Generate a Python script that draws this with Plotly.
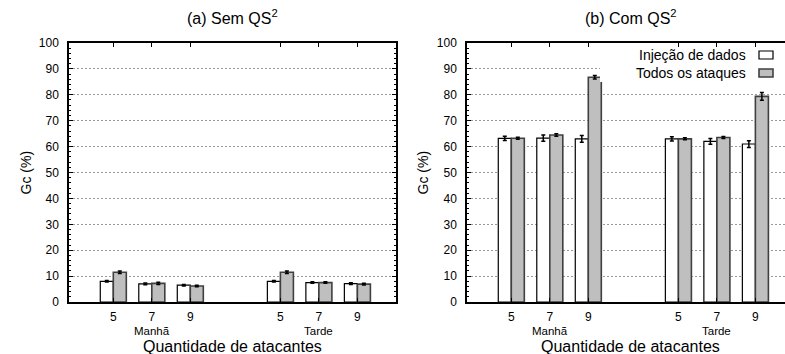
import plotly.graph_objects as go

# ---------------- data ----------------
periods = ["Manhã", "Tarde"]
attackers = ["5", "7", "9"]
series_names = ["Injeção de dados", "Todos os ataques"]

# (a) Sem QS^2
inj_sem = [8.0, 7.0, 6.5, 8.0, 7.5, 7.1]
inj_sem_err = [0.3, 0.3, 0.3, 0.3, 0.3, 0.3]
todos_sem = [11.5, 7.2, 6.2, 11.5, 7.5, 6.9]
todos_sem_err = [0.5, 0.4, 0.3, 0.5, 0.3, 0.3]

# (b) Com QS^2
inj_com = [63.2, 63.3, 63.0, 63.0, 62.0, 61.0]
inj_com_err = [0.8, 1.2, 1.3, 0.8, 1.1, 1.3]
todos_com = [63.2, 64.5, 86.8, 63.0, 63.5, 79.4]
todos_com_err = [0.4, 0.5, 0.7, 0.4, 0.4, 1.5]

# ---------------- layout helpers ----------------
W, H = 785, 354
GROUP_STEP = 4.34
xpos = [g * GROUP_STEP + a for g in range(len(periods)) for a in range(len(attackers))]
ticktext = attackers * len(periods)
BW = 0.338  # bar width in axis units

def px(x):
    return x / W

def py(y):
    return (H - y) / H

FONT = "Liberation Sans, Arial, sans-serif"
WHITE_LINE = dict(color="black", width=1.2)
GRAY_FILL = "#bfbfbf"
GRAY_LINE = dict(color="#404040", width=1.6)

fig = go.Figure()

panels = [
    ("x", "y", inj_sem, inj_sem_err, todos_sem, todos_sem_err),
    ("x2", "y2", inj_com, inj_com_err, todos_com, todos_com_err),
]
for xa, ya, inj, inj_e, tod, tod_e in panels:
    fig.add_trace(go.Bar(
        x=xpos, y=inj, width=BW, offset=-BW, name=series_names[0],
        marker=dict(color="white", line=WHITE_LINE),
        error_y=dict(type="data", array=inj_e, color="black", thickness=1.5, width=2),
        xaxis=xa, yaxis=ya, showlegend=False,
    ))
    fig.add_trace(go.Bar(
        x=xpos, y=tod, width=BW, offset=0, name=series_names[1],
        marker=dict(color=GRAY_FILL, line=GRAY_LINE),
        error_y=dict(type="data", array=tod_e, color="black", thickness=1.5, width=2),
        xaxis=xa, yaxis=ya, showlegend=False,
    ))

# plot area geometry (pixels)
L1, R1 = 69, 396
L2, R2full = 467, 794
TOP, BOT = 43, 302
unit = (R1 - L1) / (7.343 + 1.1506)
x0 = -1.1506
xr1 = [x0, x0 + (R1 - L1) / unit]
xr2 = [x0, x0 + (W - L2) / unit]

xcommon = dict(
    tickmode="array", tickvals=xpos, ticktext=ticktext,
    ticks="inside", ticklen=4, tickwidth=1, tickcolor="black",
    showline=True, linecolor="black", linewidth=1.5, mirror="ticks",
    showgrid=False, zeroline=False, ticklabelstandoff=3, automargin=False,
    tickfont=dict(family=FONT, size=12, color="black"),
)
ycommon = dict(
    range=[0, 100], dtick=10, tick0=0,
    ticks="inside", ticklen=4, tickwidth=1, tickcolor="black",
    minor=dict(dtick=2, ticks="inside", ticklen=2.5, tickcolor="black", showgrid=False),
    showline=True, linecolor="black", linewidth=1.5,
    showgrid=True, gridcolor="#9a9a9a", gridwidth=1, griddash="2px,2px",
    zeroline=False, ticklabelstandoff=6, automargin=False,
    tickfont=dict(family=FONT, size=12, color="black"),
)

fig.update_layout(
    template="none",
    width=W, height=H, autosize=False,
    margin=dict(l=0, r=0, t=0, b=0, pad=0),
    paper_bgcolor="white", plot_bgcolor="white",
    barmode="overlay",
    font=dict(family=FONT, color="black"),
    xaxis=dict(domain=[px(L1), px(R1)], range=xr1, anchor="y", **xcommon),
    yaxis=dict(domain=[py(BOT), py(TOP)], anchor="x", mirror="ticks", **ycommon),
    xaxis2=dict(domain=[px(L2), 1.0], range=xr2, anchor="y2", **xcommon),
    yaxis2=dict(domain=[py(BOT), py(TOP)], anchor="x2", mirror=False, **ycommon),
)

ann = []
# panel titles
for cx, t in [((L1 + R1) / 2, "(a) Sem QS<sup>2</sup>"), ((L2 + R2full) / 2, "(b) Com QS<sup>2</sup>")]:
    ann.append(dict(x=px(cx), y=py(17), xref="paper", yref="paper", text=t, showarrow=False,
                    font=dict(family=FONT, size=16, color="black"), xanchor="center", yanchor="middle"))
# y titles
for cx in [25, 422]:
    ann.append(dict(x=px(cx), y=py((TOP + BOT) / 2), xref="paper", yref="paper", text="Gc (%)",
                    textangle=-90, showarrow=False, font=dict(family=FONT, size=14, color="black"),
                    xanchor="center", yanchor="middle"))
# x titles
for cx in [(L1 + R1) / 2, (L2 + R2full) / 2]:
    ann.append(dict(x=px(cx), y=py(346), xref="paper", yref="paper", text="Quantidade de atacantes",
                    showarrow=False, font=dict(family=FONT, size=16, color="black"),
                    xanchor="center", yanchor="middle", borderpad=0))
# period labels under the middle tick of each group
for xr in ["x", "x2"]:
    for g, name in enumerate(periods):
        ann.append(dict(x=xpos[g * len(attackers) + 1], y=py(331), xref=xr, yref="paper", text=name,
                        showarrow=False, font=dict(family=FONT, size=11.5, color="black"),
                        xanchor="center", yanchor="middle", borderpad=0))

# manual legend (text left, sample right) in panel (b)
shapes = [dict(type="rect", xref="paper", yref="paper", x0=px(600), x1=1.0, y0=py(82), y1=py(47),
               fillcolor="white", line=dict(width=0), layer="above")]
for i, (name, fill, line) in enumerate([(series_names[0], "white", WHITE_LINE),
                                         (series_names[1], GRAY_FILL, GRAY_LINE)]):
    yc = 55 + 18 * i
    ann.append(dict(x=px(748), y=py(yc), xref="paper", yref="paper", text=name, showarrow=False,
                    font=dict(family=FONT, size=14, color="black"), xanchor="right", yanchor="middle"))
    shapes.append(dict(type="rect", xref="paper", yref="paper", x0=px(759), x1=px(773),
                       y0=py(yc + 4), y1=py(yc - 4), fillcolor=fill, line=line, layer="above"))

fig.update_layout(annotations=ann, shapes=shapes)
fig.write_html("out.html", config={"displayModeBar": False},
               post_script="document.body.style.margin='0';document.body.style.overflow='hidden';")
